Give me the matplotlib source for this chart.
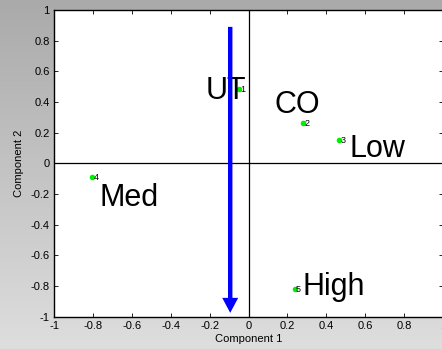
import numpy as np
import matplotlib
matplotlib.use("Agg")
import matplotlib.pyplot as plt

# ---- data ----
comp1 = [-0.05, 0.28, 0.465, -0.805, 0.237]
comp2 = [0.487, 0.26, 0.154, -0.091, -0.818]
point_ids = ["1", "2", "3", "4", "5"]
group_names = ["UT", "CO", "Low", "Med", "High"]
arrow_x = -0.094
arrow_y_from = 0.89
arrow_y_to = -0.975
xticks = [-1, -0.8, -0.6, -0.4, -0.2, 0, 0.2, 0.4, 0.6, 0.8, 1]
yticks = [-1, -0.8, -0.6, -0.4, -0.2, 0, 0.2, 0.4, 0.6, 0.8, 1]
xtick_labels = ["-1", "-0.8", "-0.6", "-0.4", "-0.2", "0", "0.2", "0.4", "0.6", "0.8", "1"]
ytick_labels = ["-1", "-0.8", "-0.6", "-0.4", "-0.2", "0", "0.2", "0.4", "0.6", "0.8", "1"]

# label offsets in pixels (style)
name_offsets = [(-33, -10), (-28, 10), (11, -17), (8, -29), (8, -6)]

plt.rcParams['font.family'] = ['Liberation Sans', 'DejaVu Sans']

W, H = 442, 349
fig = plt.figure(figsize=(W / 100, H / 100), dpi=100)

# gradient background
bg = fig.add_axes([0, 0, 1, 1], zorder=-10)
grad = np.linspace(0, 1, 256).reshape(-1, 1)
top = np.array([0.667, 0.667, 0.667])
bot = np.array([0.87, 0.87, 0.87])
img = top[None, None, :] * (1 - grad[:, :, None]) + bot[None, None, :] * grad[:, :, None]
bg.imshow(img, aspect='auto', extent=[0, 1, 0, 1], origin='upper')
bg.set_axis_off()

ax = fig.add_axes([54 / W, 1 - 316.7 / H, (443 - 54) / W, (316.7 - 10) / H])
ax.set_facecolor('white')
ax.set_xlim(-1, 1)
ax.set_ylim(-1, 1)
ax.set_xticks(xticks)
ax.set_xticklabels(xtick_labels)
ax.set_yticks(yticks)
ax.set_yticklabels(ytick_labels)
ax.tick_params(direction='in', length=3, width=0.6, labelsize=8,
               top=True, right=True, pad=3, colors='black')
for s in ax.spines.values():
    s.set_linewidth(1.0)
    s.set_color('black')

ax.axhline(0, color='black', lw=0.9, zorder=1)
ax.axvline(0, color='black', lw=0.9, zorder=1)

ax.plot(comp1, comp2, linestyle='none', marker='o', markersize=3.0,
        color='#00ee00', zorder=3)

for x, y, pid, name, (dx, dy) in zip(comp1, comp2, point_ids, group_names, name_offsets):
    ax.annotate(pid, (x, y), xytext=(1.5, -0.5), textcoords='offset pixels',
                fontsize=6.5, ha='left', va='center', zorder=4)
    ax.annotate(name, (x, y), xytext=(dx, dy), textcoords='offset pixels',
                fontsize=22, ha='left', va='baseline', zorder=4)

ax.annotate('', xy=(arrow_x, arrow_y_to), xytext=(arrow_x, arrow_y_from),
            arrowprops=dict(width=3.2, headwidth=11.5, headlength=10.8,
                            shrink=0, color='#0000ff', lw=0),
            zorder=5)

ax.set_xlabel('Component 1', fontsize=8, labelpad=2)
ax.set_ylabel('Component 2', fontsize=8, labelpad=5)

fig.savefig('out.png', dpi=100)
